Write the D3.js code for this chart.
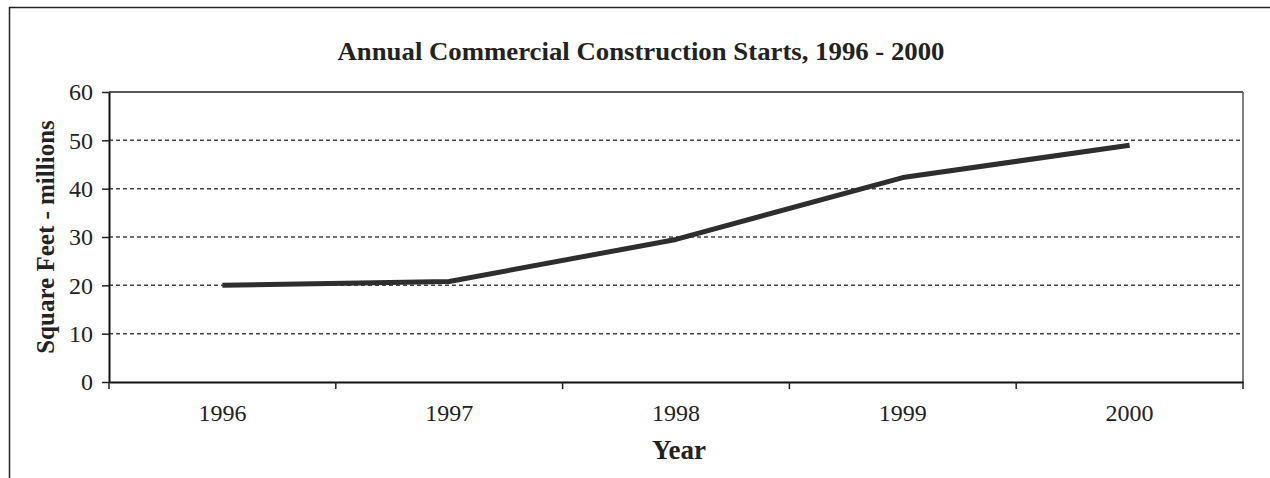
<!DOCTYPE html>
<html>
<head>
<meta charset="utf-8">
<script src="https://cdn.jsdelivr.net/npm/d3@7"></script>
<style>
  body { margin: 0; background: #fff; }
  svg { display: block; font-family: 'Liberation Serif', 'Times New Roman', serif; }
</style>
</head>
<body>
<svg id="chart" width="1270" height="478"></svg>
<script>
// data
const years = ['1996', '1997', '1998', '1999', '2000'];
const sqFeet = [20, 20.8, 29.5, 42.3, 49];
const yTicks = [0, 10, 20, 30, 40, 50, 60];

// plot area
const plotLeft = 109, plotRight = 1243, plotTop = 92, plotBottom = 382;

const svg = d3.select('#chart');

// outer frame (only left and top edges visible)
svg.append('rect')
    .attr('x', 9.5).attr('y', 7.5)
    .attr('width', 1300).attr('height', 600)
    .attr('fill', 'none').attr('stroke', '#222').attr('stroke-width', 1.5);

const xScale = d3.scaleBand().domain(years).range([plotLeft, plotRight]);
const yScale = d3.scaleLinear().domain([0, 60]).range([plotBottom, plotTop]);

// gridlines
svg.append('g')
    .selectAll('line').data(yTicks.filter(d => d > 0 && d < 60)).enter()
    .append('line')
    .attr('x1', plotLeft).attr('x2', plotRight)
    .attr('y1', d => yScale(d)).attr('y2', d => yScale(d))
    .attr('stroke', '#444').attr('stroke-width', 1.5)
    .attr('stroke-dasharray', '4,3');

// plot box top and right
svg.append('line')
    .attr('x1', plotLeft).attr('x2', plotRight)
    .attr('y1', yScale(60)).attr('y2', yScale(60))
    .attr('stroke', '#222').attr('stroke-width', 1.5);
svg.append('line')
    .attr('x1', plotRight).attr('x2', plotRight)
    .attr('y1', plotTop).attr('y2', plotBottom)
    .attr('stroke', '#555').attr('stroke-width', 1.5);

// y axis
const yAxis = svg.append('g')
    .attr('transform', 'translate(' + plotLeft + ',0)')
    .call(d3.axisLeft(yScale).tickValues(yTicks).tickSize(7).tickSizeOuter(0).tickPadding(9));

// x axis with ticks between categories
const xAxis = svg.append('g')
    .attr('transform', 'translate(0,' + plotBottom + ')')
    .call(d3.axisBottom(xScale).tickSize(0).tickPadding(22));

const boundaries = years.map(d => xScale(d)).concat([plotRight]);
svg.append('g')
    .selectAll('line').data(boundaries).enter()
    .append('line')
    .attr('x1', d => d).attr('x2', d => d)
    .attr('y1', plotBottom).attr('y2', plotBottom + 7)
    .attr('stroke', '#222').attr('stroke-width', 1.5);

[xAxis, yAxis].forEach(function(ax) {
    ax.selectAll('.domain').attr('stroke', '#111').attr('stroke-width', 2);
    ax.selectAll('.tick line').attr('stroke', '#222').attr('stroke-width', 1.5);
    ax.selectAll('text')
        .attr('font-family', "'Liberation Serif', serif")
        .attr('font-size', 24)
        .attr('fill', '#222');
});

// line
const line = d3.line()
    .x((d, i) => xScale(years[i]) + xScale.bandwidth() / 2)
    .y(d => yScale(d));

svg.append('path')
    .datum(sqFeet)
    .attr('d', line)
    .attr('fill', 'none')
    .attr('stroke', '#2e2e2e')
    .attr('stroke-width', 5)
    .attr('stroke-linejoin', 'round');

// title
svg.append('text')
    .attr('x', 641).attr('y', 60)
    .attr('text-anchor', 'middle')
    .attr('font-size', 26).attr('font-weight', 'bold')
    .attr('fill', '#222')
    .attr('textLength', 607).attr('lengthAdjust', 'spacingAndGlyphs')
    .text('Annual Commercial Construction Starts, 1996 - 2000');

// axis titles
svg.append('text')
    .attr('x', 679).attr('y', 459)
    .attr('text-anchor', 'middle')
    .attr('font-size', 27).attr('font-weight', 'bold')
    .attr('fill', '#222')
    .text('Year');

svg.append('text')
    .attr('transform', 'translate(54,237) rotate(-90)')
    .attr('text-anchor', 'middle')
    .attr('font-size', 25).attr('font-weight', 'bold')
    .attr('fill', '#222')
    .text('Square Feet - millions');
</script>
</body>
</html>
